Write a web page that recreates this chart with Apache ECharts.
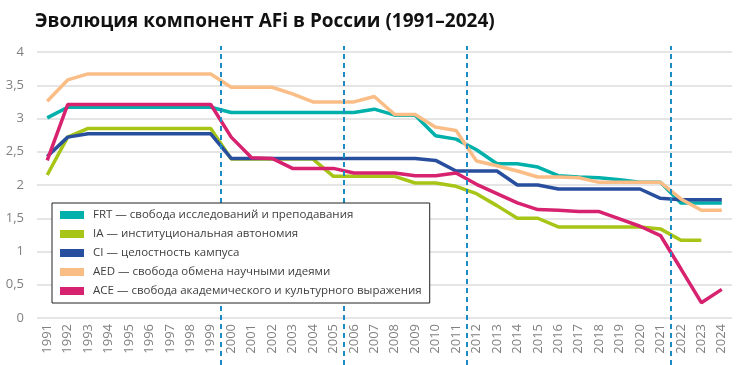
<!DOCTYPE html>
<html>
<head>
<meta charset="utf-8">
<script src="https://cdn.jsdelivr.net/npm/echarts@6/dist/echarts.min.js"></script>
<style>
html,body{margin:0;padding:0;background:#fff;}
#chart{width:736px;height:365px;}
</style>
</head>
<body>
<div id="chart"></div>
<script>
const years = ['1991','1992','1993','1994','1995','1996','1997','1998','1999','2000','2001','2002','2003','2004','2005','2006','2007','2008','2009','2010','2011','2012','2013','2014','2015','2016','2017','2018','2019','2020','2021','2022','2023','2024'];
const FRT = [3.01,3.17,3.17,3.17,3.17,3.17,3.17,3.17,3.17,3.09,3.09,3.09,3.09,3.09,3.09,3.09,3.14,3.05,3.05,2.74,2.69,2.53,2.32,2.32,2.27,2.14,2.12,2.11,2.08,2.04,2.04,1.73,1.73,1.73];
const IA  = [2.15,2.72,2.85,2.85,2.85,2.85,2.85,2.85,2.85,2.39,2.39,2.39,2.39,2.39,2.13,2.13,2.13,2.13,2.03,2.03,1.98,1.87,1.69,1.50,1.50,1.37,1.37,1.37,1.37,1.37,1.34,1.17,1.17,null];
const CI  = [2.43,2.72,2.77,2.77,2.77,2.77,2.77,2.77,2.77,2.40,2.40,2.40,2.40,2.40,2.40,2.40,2.40,2.40,2.40,2.37,2.21,2.21,2.21,2.00,2.00,1.94,1.94,1.94,1.94,1.94,1.80,1.78,1.78,1.78];
const AED = [3.26,3.58,3.67,3.67,3.67,3.67,3.67,3.67,3.67,3.47,3.47,3.47,3.37,3.25,3.25,3.25,3.33,3.06,3.06,2.87,2.82,2.36,2.29,2.21,2.12,2.12,2.11,2.04,2.04,2.04,2.04,1.79,1.62,1.62];
const ACE = [2.37,3.21,3.21,3.21,3.21,3.21,3.21,3.21,3.21,2.72,2.41,2.40,2.25,2.25,2.25,2.18,2.18,2.18,2.14,2.14,2.18,2.01,1.87,1.73,1.63,1.62,1.60,1.60,1.49,1.38,1.24,0.74,0.23,0.43];
const seriesNames = ['FRT — свобода исследований и преподавания','IA — институциональная автономия','CI — целостность кампуса','AED — свобода обмена научными идеями','ACE — свобода академического и культурного выражения'];
const seriesData = [FRT, IA, CI, AED, ACE];
const seriesColors = ['#00b0aa','#a6c516','#284f9e','#fabd86','#d7226f'];
const dividers = [8.5, 14.5, 20.5, 30.5];

const chart = echarts.init(document.getElementById('chart'), null, {renderer:'canvas'});
const FONT = "'Open Sans', 'Noto Sans', sans-serif";
const lineSeries = seriesNames.map((n,i)=>({
  name:n, type:'line', data:seriesData[i], xAxisIndex:0, yAxisIndex:0,
  symbol:'none', connectNulls:false,
  lineStyle:{color:seriesColors[i], width:3.5}, itemStyle:{color:seriesColors[i]},
  z: 3
}));
lineSeries.push({
  type:'line', xAxisIndex:1, yAxisIndex:1, data:[], symbol:'none', silent:true,
  markLine:{symbol:'none', silent:true, label:{show:false},
    lineStyle:{color:'#1e8cc4', width:2, type:[5,4]},
    data: dividers.map(d=>({xAxis:d}))}
});
chart.setOption({
  animation:false,
  backgroundColor:'#fff',
  title:{text:'Эволюция компонент AFi в России (1991–2024)', left:30, top:7,
    textStyle:{fontFamily:FONT, fontWeight:'bold', fontSize:19, color:'#111'}},
  legend:{show:true, orient:'vertical', left:52, top:203, data:seriesNames,
    icon:'rect', itemWidth:24, itemHeight:8, itemGap:7,
    padding:[6,8,6,8], borderColor:'#222', borderWidth:1, backgroundColor:'#fff',
    textStyle:{fontFamily:FONT, fontSize:11.5, color:'#404040', padding:[0,0,0,4]}, z:10},
  grid:[
    {left:37, right:4, top:52, bottom:47},
    {left:37, right:4, top:46, bottom:0}
  ],
  xAxis:[
    {type:'category', data:years, boundaryGap:true, gridIndex:0,
     axisLine:{show:false}, axisTick:{show:false},
     axisLabel:{rotate:90, fontFamily:FONT, fontSize:13, color:'#808080', margin:6, interval:0}},
    {type:'value', gridIndex:1, min:-0.5, max:33.5, show:false}
  ],
  yAxis:[
    {type:'value', gridIndex:0, min:0, max:4, interval:0.5,
     axisLine:{show:false}, axisTick:{show:false},
     splitLine:{lineStyle:{color:'#dcdcdc', width:1.5}},
     axisLabel:{fontFamily:FONT, fontSize:13, color:'#808080', margin:13,
       formatter:v=>String(v).replace('.',',')}},
    {type:'value', gridIndex:1, min:0, max:1, show:false}
  ],
  series: lineSeries
});
</script>
</body>
</html>
